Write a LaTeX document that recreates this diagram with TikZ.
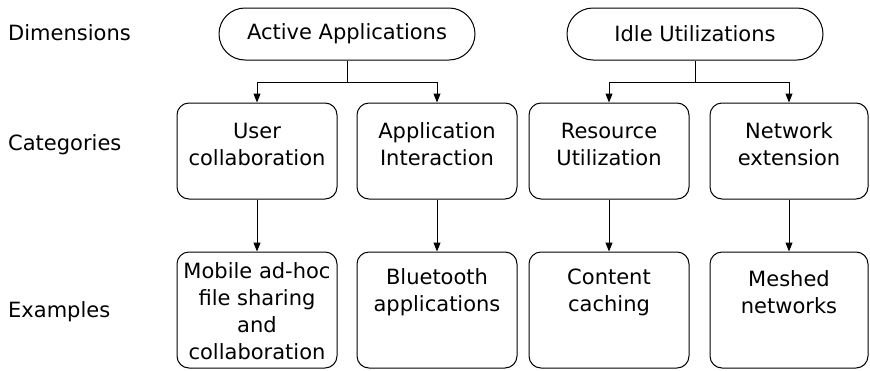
\documentclass[tikz,border=0pt]{standalone}
\usepackage{fontspec}
\setmainfont{DejaVu Sans}
\usetikzlibrary{arrows.meta,shapes.misc}
\begin{document}
\begin{tikzpicture}[x=1pt,y=-1pt,
  font=\fontsize{21}{27}\selectfont,
  dimbox/.style={draw,line width=1pt,rounded rectangle,minimum width=256pt,minimum height=52pt,inner sep=0pt},
  catbox/.style={draw,line width=1pt,rounded corners=12pt,minimum width=160pt,minimum height=96pt,inner sep=0pt},
  exbox/.style={catbox,minimum height=116pt},
  txt/.style={align=center,inner sep=0pt},
  arr/.style={line width=1pt,-{Triangle[length=9pt,width=7pt]}},
  rowlbl/.style={anchor=west,inner sep=0pt}]
  \useasboundingbox (0,0) rectangle (870,370);
  \node[rowlbl] (ldim) at (8,33) {Dimensions};
  \node[rowlbl] (lcat) at (8,145) {Categories};
  \node[rowlbl] (lex) at (8,312) {Examples};
  \node[dimbox] (active) at (347,34) {Active Applications};
  \node[dimbox] (idle) at (695,34) {Idle Utilizations};
  \node[catbox] (user) at (257,151) {};
  \node[catbox] (appint) at (437,151) {};
  \node[catbox] (resutil) at (609,151) {};
  \node[catbox,minimum width=158pt] (netext) at (789,151) {};
  \node[exbox] (mobile) at (257,310) {};
  \node[exbox] (bluetooth) at (437,310) {};
  \node[exbox] (caching) at (609,310) {};
  \node[exbox,minimum width=158pt] (meshed) at (789,310) {};
  \node[txt] (usert) at (257,144) {User\\collaboration};
  \node[txt] (appintt) at (437,144) {Application\\Interaction};
  \node[txt] (resutilt) at (609,144) {Resource\\Utilization};
  \node[txt] (netextt) at (789,144) {Network\\extension};
  \node[txt] (mobilet) at (257,311) {Mobile ad-hoc\\file sharing\\and\\collaboration};
  \node[txt] (bluetootht) at (437,292) {Bluetooth\\applications};
  \node[txt] (cachingt) at (609,292) {Content\\caching};
  \node[txt] (meshedt) at (789,292) {Meshed\\networks};
  \coordinate (ja) at (347,82);
  \coordinate (ji) at (695,82);
  \draw[line width=1pt] (active.south) -- (ja);
  \draw[line width=1pt] (idle.south) -- (ji);
  \draw[arr] (ja) -| (user.north);
  \draw[arr] (ja) -| (appint.north);
  \draw[arr] (ji) -| (resutil.north);
  \draw[arr] (ji) -| (netext.north);
  \draw[arr] (user) -- (mobile);
  \draw[arr] (appint) -- (bluetooth);
  \draw[arr] (resutil) -- (caching);
  \draw[arr] (netext) -- (meshed);
\end{tikzpicture}
\end{document}
